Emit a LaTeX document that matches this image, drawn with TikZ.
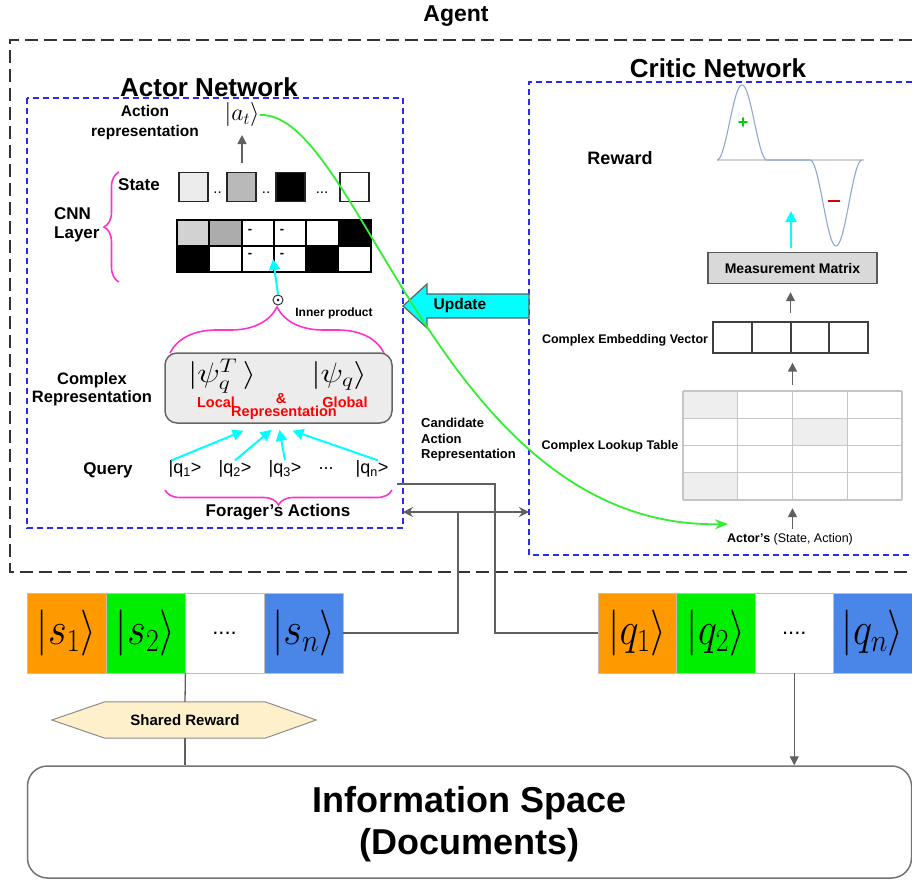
\RequirePackage{fix-cm}
\documentclass[tikz,border=0pt]{standalone}
\usepackage[no-math]{fontspec}
\usepackage{graphicx}
\setmainfont{Liberation Sans}
\usetikzlibrary{arrows.meta,decorations.pathreplacing,calc}
\newcommand{\fsz}[2]{\fontsize{#1}{#2}\selectfont}
\newcommand{\kt}[1]{\scalebox{0.88}[1]{$#1$}}
\definecolor{cyanA}{HTML}{00FFFF}
\definecolor{magB}{HTML}{FF33CC}
\definecolor{blueD}{HTML}{2B2BF0}
\definecolor{greenC}{HTML}{33EE33}
\definecolor{grayA}{HTML}{606060}
\definecolor{orangeS}{HTML}{FF9900}
\definecolor{greenS}{HTML}{00EE00}
\definecolor{blueS}{HTML}{4A86E8}
\definecolor{hexfill}{HTML}{FFF0CC}
\definecolor{curveC}{HTML}{8FA8CF}
\begin{document}
\begin{tikzpicture}[x=1pt,y=-1pt,
 lbl/.style={font=\bfseries\fsz{17}{19}, inner sep=0, align=center},
 small/.style={font=\bfseries\fsz{12.5}{14.5}, inner sep=0},
 redl/.style={font=\bfseries\fsz{14.5}{17}, text=red, inner sep=0},
 bluedash/.style={draw=blueD, line width=1.6, dash pattern=on 6pt off 4pt},
 agentdash/.style={draw=black!80, line width=1.6, dash pattern=on 13pt off 6pt},
 grayarr/.style={draw=grayA, line width=1.6, -{Triangle[length=9pt,width=9pt]}},
 cyanarr/.style={draw=cyanA, line width=2, -{Triangle[length=11pt,width=11pt]}},
 magbrace/.style={draw=magB, line width=1.6, decorate, decoration={brace, amplitude=#1}},
 sq/.style={draw=black!85, line width=1.3, minimum size=29pt, inner sep=0},
 conn/.style={draw=grayA, line width=1.3},
 cell/.style={draw=black!25, line width=0.8, minimum width=79pt, minimum height=80pt, inner sep=0},
 qcell/.style={draw=black!25, line width=0.8, minimum width=78.5pt, minimum height=80pt, inner sep=0},
 ket/.style={font=\fsz{46}{50}, inner sep=0},
 qk/.style={font=\fsz{18}{20}, inner sep=0},
]
\useasboundingbox (0,0) rectangle (912,880);

% ---------- Agent ----------
\node[font=\bfseries\fsz{23}{26}, inner sep=0] (agent) at (456,16) {Agent};
\draw[agentdash] (912,40) -- (10,40) -- (10,572) -- (912,572);

% ---------- Actor network ----------
\draw[bluedash] (27,98) rectangle (403,528);
\node[font=\bfseries\fsz{26}{30}, inner sep=0] (actT) at (209,87) {Actor Network};

\node[font=\bfseries\fsz{15.5}{20}, align=center, inner sep=0] (actrep) at (145,122) {Action\\representation};
\node[font=\fsz{24}{28}, inner sep=0] (at) at (242,115) {$|a_t\rangle$};
\coordinate (atin) at (242,163);
\draw[grayarr] (atin) -- (242,135);

\node[lbl] (state) at (139,185) {State};
\node[sq, fill=gray!15] (st1) at (193.5,187) {};
\node[sq, fill=gray!55] (st2) at (241.5,187) {};
\node[sq, fill=black] (st3) at (290.5,187) {};
\node[sq, fill=white] (st4) at (354.5,187) {};
\node[font=\fsz{15}{17}, inner sep=0] (d1) at (217.5,193) {..};
\node[font=\fsz{15}{17}, inner sep=0] (d2) at (266,193) {..};
\node[font=\fsz{15}{17}, inner sep=0] (d3) at (322,193) {...};

\node[lbl, align=left, anchor=west] (cnnl) at (54,225) {CNN\\Layer};
\draw[magbrace=15] (119,282) -- (119,172);

\foreach \fa/\fb [count=\i from 0] in {gray!35/black, gray!65/white, white/white, white/white, white/black, black/white}{
  \draw[line width=1.8, draw=black, fill=\fa] ({177+32.3*\i},220) rectangle ++(32.3,26);
  \draw[line width=1.8, draw=black, fill=\fb] ({177+32.3*\i},246) rectangle ++(32.3,26);
}
\foreach \x in {250,282}{
  \node[font=\bfseries\fsz{13}{14}, inner sep=0] at (\x,231) {-};
  \node[font=\bfseries\fsz{13}{14}, inner sep=0] at (\x,255) {-};
}
\coordinate (cnnin) at (273,259);

\node[circle, draw=black!80, line width=1, inner sep=0, minimum size=10pt] (odot) at (278,300) {};
\fill[black] (odot) circle (1.4);
\draw[cyanarr] (odot.north) -- (cnnin);
\node[font=\bfseries\fsz{12}{14}, inner sep=0] (inner) at (334,313) {Inner product};

\draw[magbrace=46] (170,353) -- (384,353);
\node[draw=black!60, fill=gray!15, line width=1.5, rounded corners=12, minimum width=227pt, minimum height=70pt, inner sep=0] (cplx) at (278.5,388) {};
\node[font=\fsz{28}{32}, inner sep=0] (psiT) at (222,376) {\scalebox{1.2}[1]{$|\psi_q^T\,\rangle$}};
\node[font=\fsz{28}{32}, inner sep=0] (psi) at (339,376) {\scalebox{1.2}[1]{$|\psi_q\rangle$}};
\node[redl] (loc) at (216,402) {Local};
\node[redl] (amp) at (281,399) {\&};
\node[redl] (glob) at (345,402) {Global};
\node[redl] (rep) at (284,413) {Representation};
\node[font=\bfseries\fsz{16.5}{18.5}, align=center, inner sep=0] (crl) at (92,389) {Complex\\Representation};

\node[lbl] (query) at (108,470) {Query};
\node[qk] (q1) at (185,469) {|q\textsubscript{1}>};
\node[qk] (q2) at (235,469) {|q\textsubscript{2}>};
\node[qk] (q3) at (285,469) {|q\textsubscript{3}>};
\node[qk] (qd) at (326,469) {...};
\node[qk] (qn) at (372,469) {|q\textsubscript{n}>};
\draw[cyanarr] ($(q1.north west)+(3,0)$) -- ($(cplx.south)+(-35,7)$);
\draw[cyanarr] (q2.north) -- ($(cplx.south)+(-7,6)$);
\draw[cyanarr] (q3.north) -- ($(cplx.south)+(1,6)$);
\draw[cyanarr] ($(qn.north)+(6,0)$) -- ($(cplx.south)+(14,7)$);
\draw[magbrace=15] (392,490) -- (165,490);
\node[font=\bfseries\fsz{17}{19}, inner sep=0] (forag) at (278,512) {Forager's Actions};

% ---------- Critic network ----------
\draw[bluedash] (912,82) -- (529,82) -- (529,555) -- (912,555);
\node[font=\bfseries\fsz{26}{30}, inner sep=0] (critT) at (718,68) {Critic Network};

\node[font=\bfseries\fsz{18}{20}, inner sep=0] (reward) at (620,158) {Reward};
\draw[gray!35, line width=1.2] (717,160) -- (864,160);
\draw[curveC, line width=1.1] plot[domain=717:767, samples=60, smooth] (\x,{160-37.5*(1+cos(180*(\x-742)/25))})
  -- (810,160) plot[domain=810:862, samples=60, smooth] (\x,{160+43*(1+cos(180*(\x-836)/26))});
\node[font=\bfseries\fsz{18}{20}, text=green!80!black, inner sep=0] (plus) at (743,123) {+};
\draw[red!85!black, line width=2.6] (828,201) -- (840,201);

\node[draw=black!65, fill=gray!30, line width=1.4, minimum width=169pt, minimum height=31pt, inner sep=0, font=\bfseries\fsz{14}{16}] (mm) at (792.5,268) {Measurement Matrix};
\coordinate (rewin) at (791,211);
\draw[cyanarr, shorten <=4] (mm.north -| rewin) -- (rewin);

\node[draw=black!75, line width=1.4, minimum width=155pt, minimum height=31pt, inner sep=0] (ev) at (790.5,337.5) {};
\foreach \x in {752,791,829} \draw[black!75, line width=1.4] (\x,322) -- (\x,353);
\node[small] (evl) at (625,340) {Complex Embedding Vector};
\draw[grayarr, shorten <=8, shorten >=8] (ev.north) -- (ev.north |- mm.south);

\node[minimum width=219pt, minimum height=109pt, inner sep=0] (lut) at (792.5,445.5) {};
\fill[gray!13] (683,391) rectangle (737.75,418.25);
\fill[gray!13] (792.5,418.25) rectangle (847.25,445.5);
\fill[gray!13] (683,472.75) rectangle (737.75,500);
\foreach \x in {683,737.75,792.5,847.25,902} \draw[gray!45, line width=1.3] (\x,391) -- (\x,500);
\foreach \y in {391,418.25,445.5,472.75,500} \draw[gray!45, line width=1.3] (683,\y) -- (902,\y);
\node[small] (lutl) at (610,446) {Complex Lookup Table};
\draw[grayarr, shorten <=6, shorten >=9] (lut.north) -- (lut.north |- ev.south);

\node[font=\fsz{12.5}{14.5}, inner sep=0] (actors) at (790,539) {\textbf{Actor's} (State, Action)};
\draw[grayarr, shorten <=4, shorten >=8] (lut.south |- actors.north) -- (lut.south);

% ---------- Update arrow ----------
\draw[fill=cyanA, draw=grayA, line width=1.2] (529,294) -- (427,294) -- (427,284) -- (403,306) -- (427,328) -- (427,318) -- (529,318) -- cycle;
\node[font=\bfseries\fsz{15.5}{18}, inner sep=0] (upd) at (460,305) {Update};

\node[font=\bfseries\fsz{13}{15.5}, align=left, anchor=west, inner sep=0] (cand) at (421,440) {Candidate\\Action\\Representation};

% ---------- Green curve ----------
\coordinate (gend) at (728,524);
\draw[greenC, line width=1.8, -{Stealth[length=13pt,width=10pt]}] (at.east) .. controls (360,110) and (440,530) .. (gend);

% ---------- Bottom ----------
\node[cell, fill=orangeS] (s1) at (66.5,633) {};
\node[cell, fill=greenS] (s2) at (145.5,633) {};
\node[cell, fill=white] (s3) at (224.5,633) {};
\node[cell, fill=blueS] (s4) at (303.5,633) {};
\node[ket] at (s1) {\kt{|s_1\rangle}};
\node[ket] at (s2) {\kt{|s_2\rangle}};
\node[font=\fsz{22}{24}] at (s3) {....};
\node[ket] at (s4) {\kt{|s_n\rangle}};

\node[qcell, fill=orangeS] (r1) at (637.25,633) {};
\node[qcell, fill=greenS] (r2) at (715.75,633) {};
\node[qcell, fill=white] (r3) at (794.25,633) {};
\node[qcell, fill=blueS] (r4) at (872.75,633) {};
\node[ket] at (r1) {\kt{|q_1\rangle}};
\node[ket] at (r2) {\kt{|q_2\rangle}};
\node[font=\fsz{22}{24}] at (r3) {....};
\node[ket] at (r4) {\kt{|q_n\rangle}};

\coordinate (da1) at (403,512);
\coordinate (da2) at (529,512);
\coordinate (sjoin) at (458,512);
\coordinate (qturn) at (495,484);
\coordinate (qend) at (397,484);
\draw[conn, {Stealth[length=10pt,width=10pt]}-{Stealth[length=10pt,width=10pt]}] (da1) -- (da2);
\draw[conn] (s4.east) -| (sjoin);
\draw[conn] (r1.west) -| (qturn) -- (qend);

\node[draw=black!55, line width=1.5, rounded corners=20, minimum width=884pt, minimum height=112pt, inner sep=0] (info) at (469.5,822) {};
\node[font=\bfseries\fsz{36}{42}, align=center, inner sep=0] (infot) at (469.5,824) {Information Space\\(Documents)};

\node[minimum width=160pt, minimum height=36pt, inner sep=0] (sr) at (185,720) {};
\draw[fill=hexfill, draw=black!45, line width=1] (sr.north west) -- (sr.north east) -- ($(sr.east)+(51,0)$) -- (sr.south east) -- (sr.south west) -- ($(sr.west)+(-53,0)$) -- cycle;
\node[font=\bfseries\fsz{15}{17}, inner sep=0] (srt) at (sr) {Shared Reward};
\draw[conn] (s2.south east) -- (sr.north);
\draw[conn] (sr.south) -- (sr.south |- info.north);
\draw[grayarr, line width=1.3] (r3.south) -- (r3.south |- info.north);
\end{tikzpicture}
\end{document}
